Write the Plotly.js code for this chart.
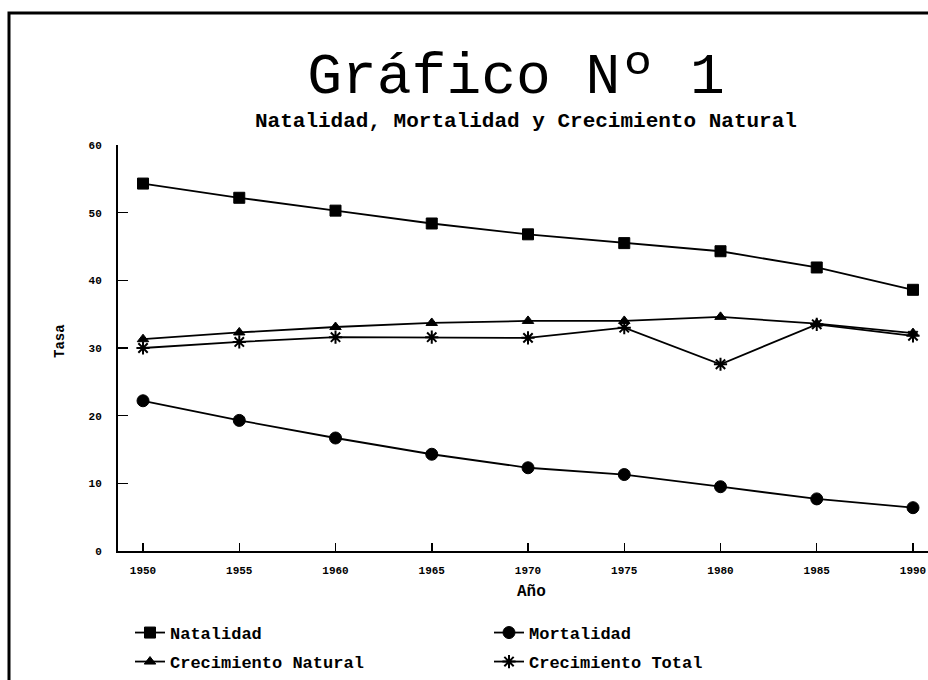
<!DOCTYPE html>
<html>
<head>
<meta charset="utf-8">
<script src="https://cdn.plot.ly/plotly-3.0.1.min.js"></script>
<style>html,body{margin:0;padding:0;background:#fff;overflow:hidden}</style>
</head>
<body>
<div id="chart" style="width:928px;height:680px"></div>
<script>
const years = [1950, 1955, 1960, 1965, 1970, 1975, 1980, 1985, 1990];
const natalidad = [54.3, 52.2, 50.3, 48.4, 46.8, 45.5, 44.3, 41.9, 38.6];
const mortalidad = [22.2, 19.3, 16.7, 14.3, 12.3, 11.3, 9.5, 7.7, 6.4];
const crecNatural = [31.3, 32.3, 33.1, 33.7, 34.0, 34.0, 34.6, 33.6, 32.2];
const crecTotal = [30.0, 30.9, 31.6, 31.6, 31.5, 33.0, 27.6, 33.5, 31.8];
const seriesNames = ['Natalidad', 'Mortalidad', 'Crecimiento Natural', 'Crecimiento Total'];
const yTicks = [0, 10, 20, 30, 40, 50, 60];

const W = 928, H = 680;
const L = 118, R = 0, T = 145, B = 129;
const pw = W - L - R, ph = H - T - B;
const px = x => (x - L) / pw;
const py = y => (H - B - y) / ph;

const FONT = 'Liberation Mono, Courier New, monospace';
const lineStyle = {color: '#000', width: 1.8};

function tr(name, y, symbol, size, legend, lw) {
  return {
    x: years, y: y, name: name, type: 'scatter', mode: 'lines+markers',
    line: lineStyle, legend: legend,
    marker: {symbol: symbol, size: size, color: '#000', line: {color: '#000', width: lw || 1}}
  };
}

const data = [
  tr(seriesNames[0], natalidad, 'square', 11, 'legend'),
  tr(seriesNames[1], mortalidad, 'circle', 12, 'legend'),
  tr(seriesNames[2], crecNatural, 'triangle-up', 10, 'legend2'),
  tr(seriesNames[3], crecTotal, 'asterisk', 11, 'legend2', 2)
];

const legendFont = {family: FONT, size: 17, color: '#000', weight: 'bold'};
const legendBase = {
  orientation: 'h', xanchor: 'left', yanchor: 'top',
  entrywidth: 314, entrywidthmode: 'pixels',
  font: legendFont, bgcolor: 'rgba(0,0,0,0)', itemwidth: 30
};

const layout = {
  width: W, height: H,
  margin: {l: L, r: R, t: T, b: B},
  paper_bgcolor: '#fff', plot_bgcolor: '#fff',
  showlegend: true,
  title: {
    text: 'Gráfico Nº 1',
    font: {family: FONT, size: 58, color: '#000'},
    xref: 'container', yref: 'container',
    x: 516 / W, y: 1 - 73 / H, xanchor: 'center', yanchor: 'middle'
  },
  xaxis: {
    range: [1948.70, 1990.78],
    tickmode: 'array', tickvals: years, ticktext: years.map(String),
    ticks: 'inside', ticklen: 8, tickwidth: 1.5, tickcolor: '#000',
    showline: true, linecolor: '#000', linewidth: 2,
    showgrid: false, zeroline: false,
    tickfont: {family: FONT, size: 11, color: '#000', weight: 'bold'},
    ticklabelstandoff: 8
  },
  yaxis: {
    range: [0, 60],
    tickmode: 'array', tickvals: yTicks, ticktext: yTicks.map(String),
    ticks: 'inside', ticklen: 10, tickwidth: 1.5, tickcolor: '#000',
    showline: true, linecolor: '#000', linewidth: 2,
    showgrid: false, zeroline: false,
    tickfont: {family: FONT, size: 11, color: '#000', weight: 'bold'},
    ticklabelstandoff: 12
  },
  legend: Object.assign({}, legendBase, {x: px(130), y: py(615)}),
  legend2: Object.assign({}, legendBase, {x: px(130), y: py(644)}),
  annotations: [{
    text: 'Natalidad, Mortalidad y Crecimiento Natural',
    xref: 'paper', yref: 'paper', x: px(526), y: py(122),
    xanchor: 'center', yanchor: 'middle', showarrow: false,
    font: {family: FONT, size: 21, color: '#000', weight: 'bold'}
  }, {
    text: 'Año',
    xref: 'paper', yref: 'paper', x: px(531), y: py(592),
    xanchor: 'center', yanchor: 'middle', showarrow: false,
    font: {family: FONT, size: 16, color: '#000', weight: 'bold'}
  }, {
    text: 'Tasa', textangle: -90,
    xref: 'paper', yref: 'paper', x: px(60), y: py(341),
    xanchor: 'center', yanchor: 'middle', showarrow: false,
    font: {family: FONT, size: 14, color: '#000', weight: 'bold'}
  }],
  shapes: [{
    type: 'rect', xref: 'paper', yref: 'paper',
    x0: px(9), x1: px(960), y0: py(720), y1: py(13),
    line: {color: '#000', width: 3}, fillcolor: 'rgba(0,0,0,0)', layer: 'above'
  }]
};

Plotly.newPlot('chart', data, layout, {displayModeBar: false, staticPlot: true});
</script>
</body>
</html>
